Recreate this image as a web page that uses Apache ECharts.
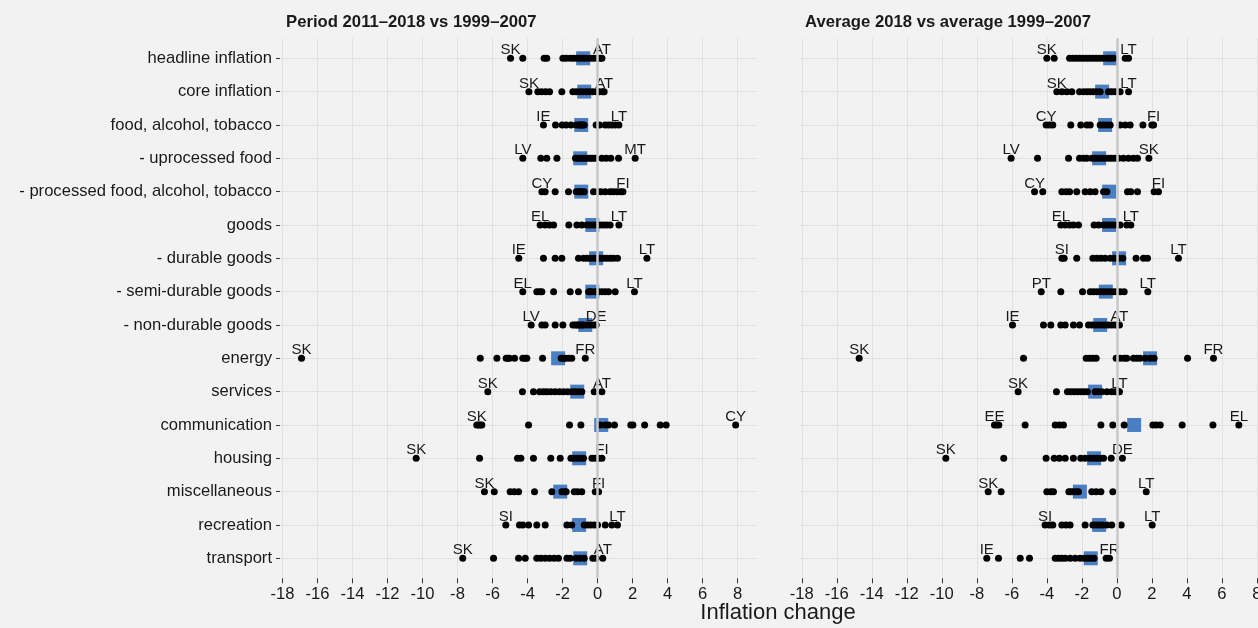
<!DOCTYPE html>
<html>
<head>
<meta charset="utf-8">
<script src="https://cdn.jsdelivr.net/npm/echarts@6/dist/echarts.min.js"></script>
<style>
  html, body { margin: 0; padding: 0; background: #f2f2f2; }
  #chart { width: 1258px; height: 628px; }
</style>
</head>
<body>
<div id="chart"></div>
<script>
// HICP components, top to bottom
const categories = [
  'headline inflation', 'core inflation', 'food, alcohol, tobacco', '- uprocessed food',
  '- processed food, alcohol, tobacco', 'goods', '- durable goods', '- semi-durable goods',
  '- non-durable goods', 'energy', 'services', 'communication', 'housing',
  'miscellaneous', 'recreation', 'transport'
];

const xTicks = [-18, -16, -14, -12, -10, -8, -6, -4, -2, 0, 2, 4, 6, 8];

const panelTitles = ['Period 2011\u20132018 vs 1999\u20132007', 'Average 2018 vs average 1999\u20132007'];

// Panel 1: country changes, period 2011-2018 vs 1999-2007
const periodValues = [
  [-4.97, -4.27, -3.05, -2.9, -1.98, -1.79, -1.56, -1.37, -1.18, -0.99, -0.8, -0.61, -0.42, -0.23, -0.04, 0.15, 0.25],
  [-3.92, -3.41, -3.2, -2.97, -2.74, -2.04, -1.41, -1.22, -1.03, -0.84, -0.65, -0.46, -0.27, -0.08, 0.11, 0.3, 0.38],
  [-3.09, -2.4, -2.02, -1.79, -1.52, -1.22, -1.07, -0.99, -0.91, -0.84, -0.76, -0.08, 0.11, 0.44, 0.63, 0.82, 1.01, 1.22],
  [-4.27, -3.24, -2.9, -2.32, -1.26, -1.12, -0.99, -0.84, -0.7, -0.57, -0.42, -0.29, -0.13, 0.25, 0.5, 0.76, 1.2, 2.15],
  [-3.18, -2.99, -2.42, -1.66, -1.22, -1.07, -1.0, -0.91, -0.76, -0.23, 0, 0.19, 0.44, 0.72, 0.9, 1.1, 1.3, 1.45],
  [-3.28, -2.99, -2.74, -2.51, -1.64, -1.18, -0.9, -0.61, -0.42, -0.23, -0.04, 0.15, 0.34, 0.53, 0.72, 1.22],
  [-4.5, -3.09, -2.42, -2.04, -1.09, -0.8, -0.61, -0.42, -0.23, -0.04, 0.15, 0.34, 0.53, 0.72, 0.91, 1.14, 2.82],
  [-4.27, -3.47, -3.31, -3.18, -2.51, -1.56, -1.09, -0.51, -0.42, -0.32, -0.13, -0.04, 0.06, 0.25, 0.44, 0.63, 1.01, 2.11],
  [-3.79, -3.18, -2.99, -2.42, -1.98, -1.41, -1.28, -1.18, -1.09, -0.99, -0.9, -0.8, -0.61, -0.42, -0.23, -0.08],
  [-16.91, -6.7, -5.75, -5.22, -5.12, -5.03, -4.74, -4.27, -4.13, -4.04, -3.14, -2.08, -1.94, -1.85, -1.66, -1.47, -0.7],
  [-6.27, -4.29, -3.66, -3.31, -3.09, -2.9, -2.67, -2.42, -2.17, -1.94, -1.71, -1.47, -1.28, -1.09, -0.9, -0.19, 0.25],
  [-6.9, -6.8, -6.7, -6.61, -3.94, -1.6, -0.95, 0.15, 0.44, 0.63, 0.97, 1.9, 2.02, 2.69, 3.58, 3.92, 7.89],
  [-10.36, -6.74, -4.57, -4.38, -3.66, -2.67, -2.13, -1.52, -1.33, -1.14, -0.95, -0.8, -0.32, -0.13, 0.06, 0.25],
  [-6.46, -5.9, -4.99, -4.76, -4.51, -3.6, -2.61, -2.04, -1.9, -1.79, -1.33, -1.14, -0.9, -0.13, 0.06],
  [-5.24, -4.46, -4.27, -3.94, -3.47, -2.99, -1.75, -1.47, -0.76, -0.57, -0.38, -0.19, 0, 0.44, 0.82, 1.14],
  [-7.7, -5.94, -4.51, -4.13, -3.47, -3.24, -2.99, -2.74, -2.48, -2.23, -1.75, -1.56, -1.22, -0.99, -0.76, -0.27, -0.08, 0.3]
];
const periodEuroArea = [-0.82, -0.76, -0.93, -0.99, -0.93, -0.30, -0.08, -0.30, -0.70, -2.25, -1.16, 0.21, -1.05, -2.13, -1.05, -0.99];
const periodLowest  = ['SK', 'SK', 'IE', 'LV', 'CY', 'EL', 'IE', 'EL', 'LV', 'SK', 'SK', 'SK', 'SK', 'SK', 'SI', 'SK'];
const periodHighest = ['AT', 'AT', 'LT', 'MT', 'FI', 'LT', 'LT', 'LT', 'DE', 'FR', 'AT', 'CY', 'FI', 'FI', 'LT', 'AT'];

// Panel 2: country changes, average 2018 vs average 1999-2007
const averageValues = [
  [-4.0, -3.58, -2.7, -2.51, -2.32, -2.13, -1.94, -1.75, -1.56, -1.37, -1.18, -0.99, -0.8, -0.57, -0.38, -0.19, 0.48, 0.67],
  [-3.43, -3.14, -2.86, -2.57, -2.13, -1.9, -1.71, -1.52, -1.33, -1.14, -0.95, -0.48, -0.29, -0.1, 0.19, 0.67],
  [-4.04, -3.85, -3.66, -2.63, -2.06, -1.71, -1.52, -0.95, -0.76, -0.57, -0.38, 0.19, 0.48, 0.76, 1.49, 2.0, 2.1],
  [-6.04, -4.53, -2.76, -2.13, -1.9, -1.71, -1.43, -1.24, -1.05, -0.86, -0.67, -0.48, -0.29, -0.1, 0.1, 0.38, 0.67, 0.95, 1.18, 1.83],
  [-4.7, -4.23, -3.14, -2.9, -2.7, -2.29, -1.81, -1.52, -1.24, -0.76, -0.57, 0.61, 0.8, 1.18, 2.13, 2.38],
  [-3.2, -2.95, -2.7, -2.48, -2.19, -1.3, -1.05, -0.76, -0.57, -0.38, -0.19, 0, 0.19, 0.57, 0.8],
  [-3.14, -3.01, -2.29, -1.37, -1.14, -0.91, -0.67, -0.38, -0.15, 0.1, 0.34, 1.1, 1.52, 1.75, 3.52],
  [-4.32, -3.2, -1.96, -1.52, -1.33, -1.14, -0.95, -0.76, -0.57, -0.38, -0.19, 0, 0.19, 0.42, 1.77],
  [-5.96, -4.19, -3.77, -3.2, -2.95, -2.48, -2.13, -1.62, -1.43, -1.24, -1.05, -0.86, -0.67, -0.48, -0.29, -0.1, 0.15],
  [-14.72, -5.33, -1.75, -1.56, -1.37, -1.18, -0.04, 0.19, 0.42, 0.57, 0.95, 1.14, 1.33, 1.62, 1.9, 2.13, 4.04, 5.52],
  [-5.64, -3.45, -2.82, -2.63, -2.44, -2.25, -2.06, -1.87, -1.68, -1.24, -1.05, -0.86, -0.57, -0.29, -0.1, 0.1, 0.15],
  [-6.99, -6.86, -6.74, -5.24, -3.52, -3.28, -3.05, -0.91, -0.23, 0.42, 2.06, 2.25, 2.48, 3.73, 5.49, 6.97],
  [-9.77, -6.46, -4.04, -3.58, -3.28, -2.95, -2.48, -2.06, -1.81, -1.56, -1.33, -1.14, -0.95, -0.76, -0.32, 0.32],
  [-7.35, -6.61, -4.0, -3.77, -3.62, -2.74, -2.63, -2.48, -2.34, -2.19, -1.43, -1.18, -0.91, -0.23, 1.68],
  [-4.1, -3.85, -3.66, -3.14, -2.9, -2.67, -1.81, -1.37, -1.18, -0.99, -0.8, -0.57, -0.29, 0.25, 2.02],
  [-7.43, -6.76, -5.52, -4.99, -3.52, -3.33, -3.14, -2.95, -2.67, -2.38, -2.1, -1.87, -1.68, -1.49, -1.3, -0.61, -0.42]
];
const averageEuroArea = [-0.38, -0.84, -0.67, -1.01, -0.44, -0.44, 0.13, -0.63, -0.95, 1.90, -1.24, 0.99, -1.30, -2.11, -1.01, -1.49];
const averageLowest  = ['SK', 'SK', 'CY', 'LV', 'CY', 'EL', 'SI', 'PT', 'IE', 'SK', 'SK', 'EE', 'SK', 'SK', 'SI', 'IE'];
const averageHighest = ['LT', 'LT', 'FI', 'SK', 'FI', 'LT', 'LT', 'LT', 'AT', 'FR', 'LT', 'EL', 'DE', 'LT', 'LT', 'FR'];

const SANS = '"Liberation Sans", Arial, Helvetica, sans-serif';
const rowIndex = categories.map((_, i) => i);

const panels = [
  { values: periodValues, ea: periodEuroArea, low: periodLowest, high: periodHighest },
  { values: averageValues, ea: averageEuroArea, low: averageLowest, high: averageHighest }
];

const codeLabel = code => ({
  show: true, formatter: code, position: 'top', distance: -3,
  fontFamily: SANS, fontSize: 15, color: '#1a1a1a'
});

const series = [];
panels.forEach((p, k) => {
  // vertical reference at zero
  series.push({
    type: 'scatter', xAxisIndex: k, yAxisIndex: k, data: [], z: 1, silent: true,
    markLine: {
      silent: true, symbol: ['none', 'none'], label: { show: false },
      lineStyle: { color: '#c8c8c8', width: 2.5, type: 'solid' },
      data: [{ xAxis: 0 }], animation: false
    }
  });
  // euro area
  series.push({
    type: 'scatter', xAxisIndex: k, yAxisIndex: k, z: 2, symbol: 'rect', symbolSize: 14,
    itemStyle: { color: '#4a7fc3', opacity: 1 },
    data: p.ea.map((v, r) => [v, r])
  });
  // countries, lowest and highest labelled
  const pts = [];
  p.values.forEach((row, r) => {
    const lo = Math.min(...row), hi = Math.max(...row);
    let loDone = false, hiDone = false;
    row.forEach(v => {
      const item = { value: [v, r] };
      if (v === lo && !loDone) { item.label = codeLabel(p.low[r]); loDone = true; }
      else if (v === hi && !hiDone) { item.label = codeLabel(p.high[r]); hiDone = true; }
      pts.push(item);
    });
  });
  series.push({
    type: 'scatter', xAxisIndex: k, yAxisIndex: k, z: 3, symbolSize: 7,
    itemStyle: { color: '#000000', opacity: 1 },
    label: { show: false },
    data: pts
  });
});

const xAxisBase = gi => ({
  type: 'value', gridIndex: gi, min: -18.14, max: 9.11, position: 'bottom',
  axisLine: { show: false, onZero: false },
  axisTick: { show: true, customValues: xTicks, length: 5, lineStyle: { color: '#333333', width: 1 } },
  axisLabel: { customValues: xTicks, margin: 8, fontFamily: SANS, fontSize: 16.6, color: '#1a1a1a' },
  splitLine: { show: true, lineStyle: { color: '#e2e2e2', width: 1 } }
});

const yAxisBase = (gi, withLabels) => ({
  type: 'value', gridIndex: gi, inverse: true, min: -0.6, max: 15.6, position: 'left',
  axisLine: { show: false, onZero: false },
  axisTick: { show: withLabels, customValues: rowIndex, length: 4, lineStyle: { color: '#333333', width: 1 } },
  axisLabel: {
    show: withLabels, customValues: rowIndex, margin: 8,
    fontFamily: SANS, fontSize: 16.6, color: '#1a1a1a',
    formatter: v => categories[Math.round(v)]
  },
  splitLine: { show: true, lineStyle: { color: '#e2e2e2', width: 1 } }
});

const titleStyle = { fontFamily: SANS, fontSize: 16.7, fontWeight: 'bold', color: '#1a1a1a' };

const chart = echarts.init(document.getElementById('chart'), null, { renderer: 'canvas' });
chart.setOption({
  animation: false,
  backgroundColor: '#f2f2f2',
  title: [
    { text: panelTitles[0], left: 286, top: 14, padding: 0, textStyle: titleStyle },
    { text: panelTitles[1], left: 805, top: 14, padding: 0, textStyle: titleStyle },
    { text: 'Inflation change', left: 778, top: 602, padding: 0, textAlign: 'center',
      textStyle: { fontFamily: SANS, fontSize: 22, fontWeight: 'normal', color: '#1a1a1a' } }
  ],
  grid: [
    { left: 280, top: 38.3, width: 477, height: 540, outerBoundsMode: 'none', containLabel: false },
    { left: 799.3, top: 38.3, width: 477, height: 540, outerBoundsMode: 'none', containLabel: false }
  ],
  xAxis: [xAxisBase(0), xAxisBase(1)],
  yAxis: [yAxisBase(0, true), yAxisBase(1, false)],
  series: series
});
</script>
</body>
</html>
